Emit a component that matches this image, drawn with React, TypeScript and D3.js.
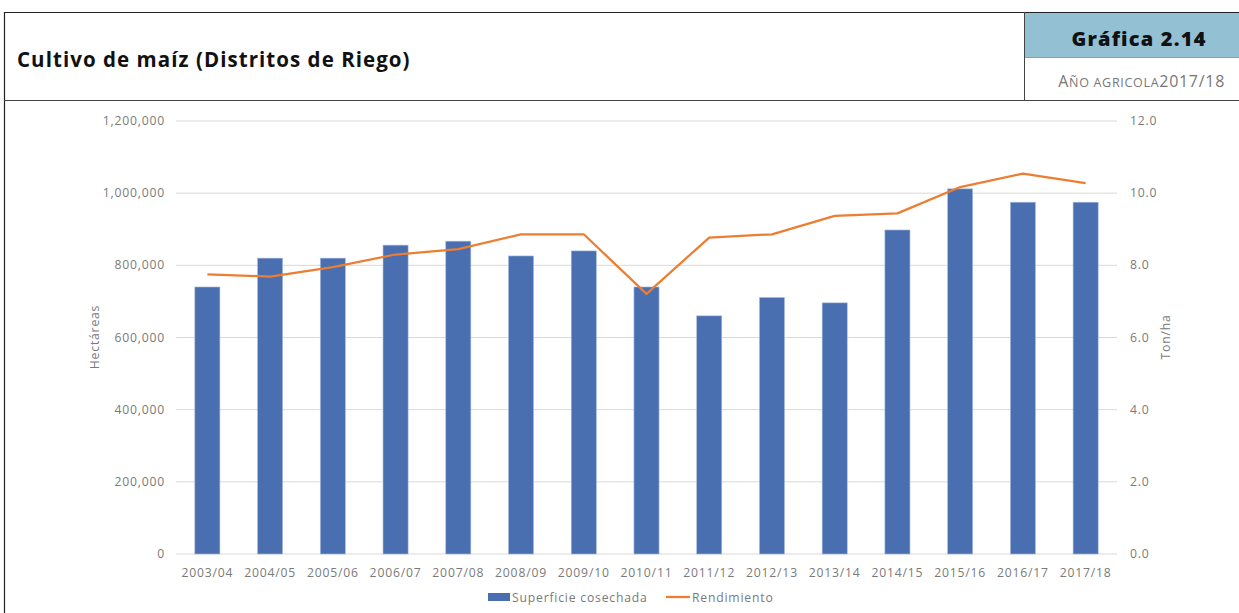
import React from "react";
import * as d3 from "d3";

const categories = ["2003/04","2004/05","2005/06","2006/07","2007/08","2008/09","2009/10","2010/11","2011/12","2012/13","2013/14","2014/15","2015/16","2016/17","2017/18"];
const superficie = [740000,820000,820000,856000,867000,826000,840000,740000,660000,711000,696000,898000,1012000,975000,975000];
const rendimiento = [7.75,7.69,7.95,8.30,8.45,8.86,8.86,7.21,8.77,8.86,9.37,9.44,10.17,10.54,10.28];
const leftTicks = [0,200000,400000,600000,800000,1000000,1200000];
const rightTicks = [0,2,4,6,8,10,12];

const W = 1239, H = 613;
const plot = { left: 176, right: 1117, top: 121, bottom: 554 };
const FONT = "'Open Sans', sans-serif";
const GRAY = "#7a7a7a";
const LS = 0.8;
const FS = 12.2;

export default function App() {
  const x = d3.scaleBand<string>().domain(categories).range([plot.left, plot.right]).paddingInner(0.6).paddingOuter(0.3);
  const yL = d3.scaleLinear().domain([0, 1200000]).range([plot.bottom, plot.top]);
  const yR = d3.scaleLinear().domain([0, 12]).range([plot.bottom, plot.top]);
  const fmtL = d3.format(",");
  const fmtR = d3.format(".1f");
  const line = d3.line<number>()
    .x((_, i) => (x(categories[i]) as number) + x.bandwidth() / 2)
    .y((d) => yR(d));

  return (
    <svg width={W} height={H} style={{ position: "absolute", left: 0, top: 0, display: "block" }} fontFamily={FONT}>
      <rect x={0} y={0} width={W} height={H} fill="#fff" />
      {/* header */}
      <rect x={1025} y={13} width={W - 1025} height={44} fill="#93c0d3" />
      <line x1={1025} x2={W} y1={57.5} y2={57.5} stroke="#9a9a9a" strokeWidth={1} />
      <line x1={4} x2={W} y1={12.5} y2={12.5} stroke="#222" strokeWidth={1.2} />
      <line x1={4.5} x2={4.5} y1={12} y2={H} stroke="#222" strokeWidth={1.2} />
      <line x1={4} x2={W} y1={100.5} y2={100.5} stroke="#444" strokeWidth={1.2} />
      <line x1={1024.5} x2={1024.5} y1={12} y2={100} stroke="#444" strokeWidth={1} />
      <text x={17} y={67} fontSize={20.5} fontWeight={700} fill="#111" letterSpacing={1.05}>Cultivo de maíz (Distritos de Riego)</text>
      <text x={1139} y={46} fontSize={20} fontWeight={800} fill="#111" textAnchor="middle" letterSpacing={1.2}>Gráfica 2.14</text>
      <text x={1225} y={87} fill="#777" textAnchor="end" letterSpacing={0.7}>
        <tspan fontSize={16}>A</tspan>
        <tspan fontSize={12.5}>ÑO AGRICOLA</tspan>
        <tspan fontSize={16}>2017/18</tspan>
      </text>

      {/* gridlines */}
      {leftTicks.map((t) => (
        <line key={"g" + t} x1={plot.left} x2={plot.right} y1={yL(t)} y2={yL(t)} stroke="#d9d9d9" strokeWidth={1} />
      ))}
      {/* bars */}
      {superficie.map((v, i) => (
        <rect key={"b" + i} x={x(categories[i])} y={yL(v)} width={x.bandwidth()} height={yL(0) - yL(v)} fill="#4a6fb0" stroke="#a9bde0" strokeWidth={0.6} />
      ))}
      {/* line */}
      <path d={line(rendimiento) || ""} fill="none" stroke="#ed7d31" strokeWidth={2.25} strokeLinejoin="round" />

      {/* left ticks */}
      {leftTicks.map((t) => (
        <text key={"l" + t} x={165} y={yL(t) + 4} fontSize={FS} fill={GRAY} textAnchor="end" letterSpacing={LS}>{fmtL(t)}</text>
      ))}
      {rightTicks.map((t) => (
        <text key={"r" + t} x={1130} y={yR(t) + 4} fontSize={FS} fill={GRAY} letterSpacing={LS}>{fmtR(t)}</text>
      ))}
      {categories.map((c) => (
        <text key={"x" + c} x={(x(c) as number) + x.bandwidth() / 2} y={577} fontSize={FS} fill={GRAY} textAnchor="middle" letterSpacing={LS}>{c}</text>
      ))}
      <text transform={`translate(99,337) rotate(-90)`} fontSize={FS} fill={GRAY} textAnchor="middle" letterSpacing={LS}>Hectáreas</text>
      <text transform={`translate(1170,337) rotate(-90)`} fontSize={FS} fill={GRAY} textAnchor="middle" letterSpacing={LS}>Ton/ha</text>

      {/* legend */}
      <rect x={488} y={593} width={22} height={8} fill="#4a6fb0" />
      <text x={512} y={601.5} fontSize={FS} fill={GRAY} letterSpacing={LS}>Superficie cosechada</text>
      <line x1={666} x2={690} y1={597} y2={597} stroke="#ed7d31" strokeWidth={2.25} />
      <text x={692} y={601.5} fontSize={FS} fill={GRAY} letterSpacing={LS}>Rendimiento</text>
    </svg>
  );
}
